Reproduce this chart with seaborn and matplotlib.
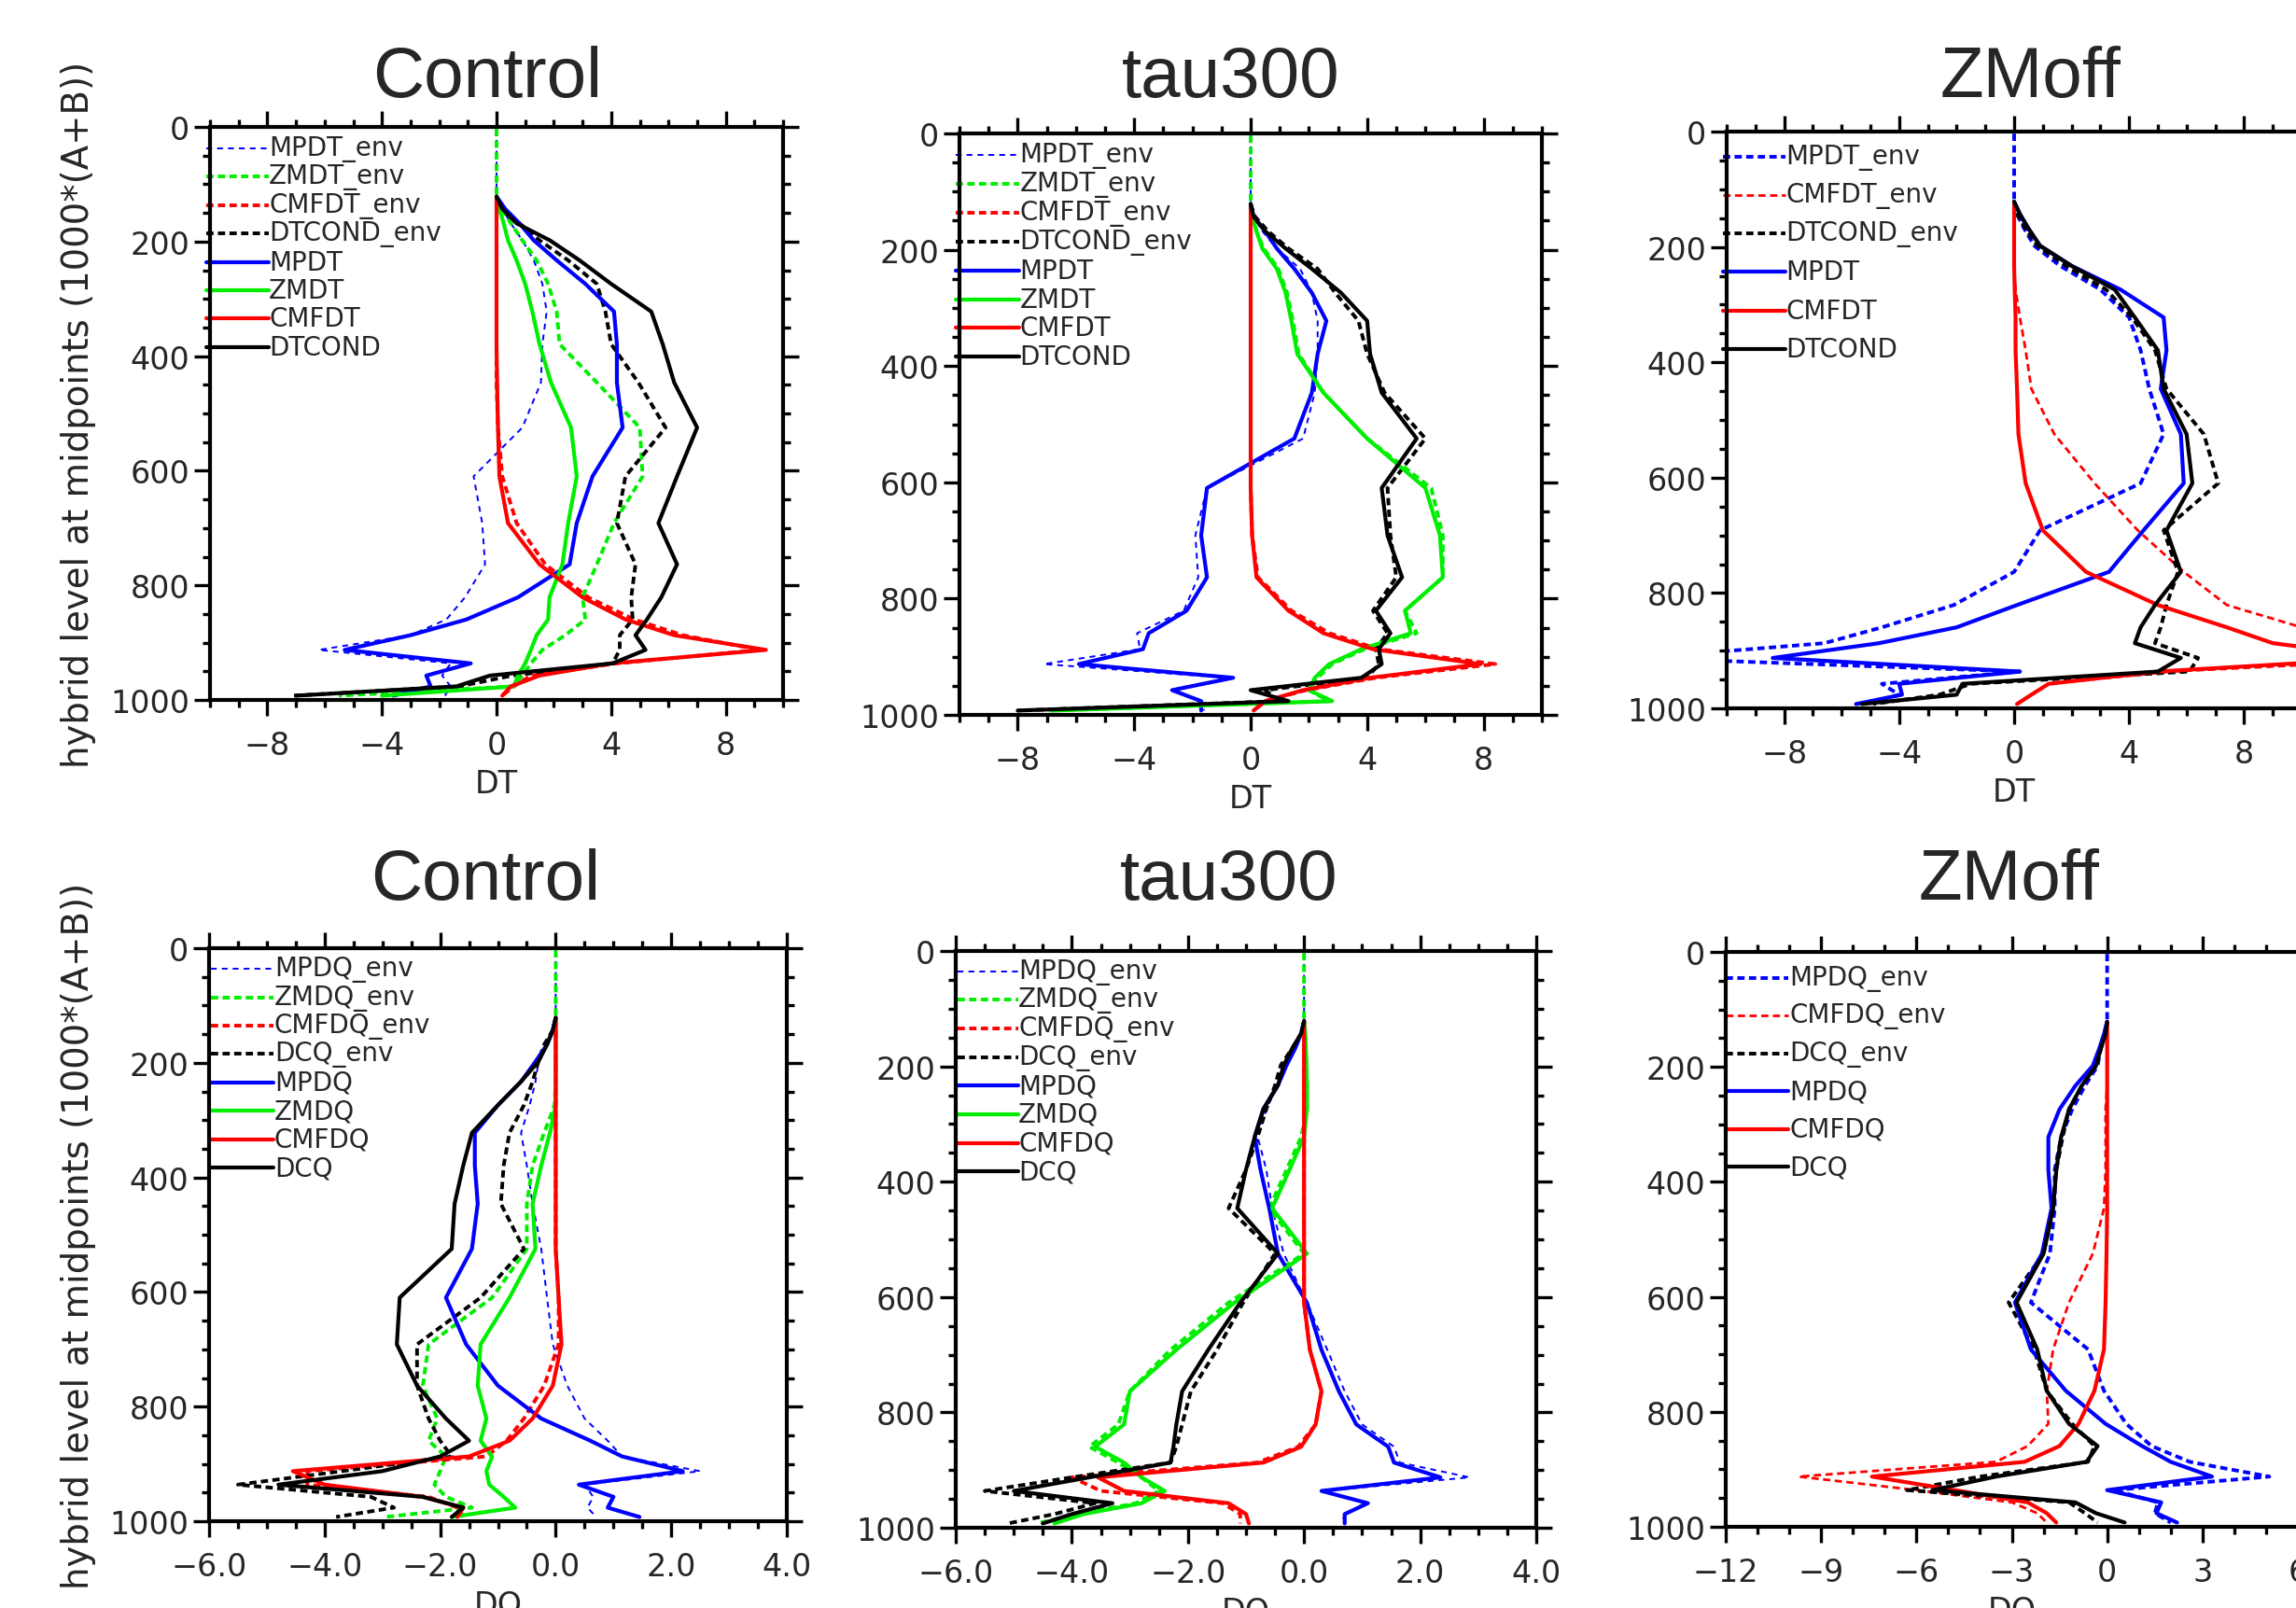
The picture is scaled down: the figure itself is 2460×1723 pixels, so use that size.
import matplotlib
matplotlib.use("Agg")
import matplotlib.pyplot as plt
import matplotlib.transforms as mtransforms
from matplotlib.ticker import FixedLocator, MultipleLocator, FuncFormatter
import seaborn as sns

NA = float("nan")  # level not plotted (no data above the convective top)

# ---------------- data ----------------
LEV = [3.64, 7.59, 14.36, 24.61, 38.27, 54.60, 72.01, 87.82, 103.32, 121.55,
       142.99, 168.23, 197.91, 232.83, 273.91, 322.24, 379.10, 445.99, 524.69, 609.78,
       691.39, 763.40, 820.86, 859.53, 887.02, 912.64, 936.20, 957.49, 976.33, 992.56]

# Control, DT
ctl_MPDT_env = [0, 0, 0, 0, 0, 0, 0, 0, 0, 0,
                0.2, 0.5, 0.9, 1.3, 1.6, 1.75, 1.6, 1.55, 0.9, -0.8,
                -0.5, -0.4, -1.1, -1.75, -3.0, -6.2, -1.6, -1.9, -1.6, -1.8]
ctl_ZMDT_env = [0, 0, 0, 0, 0, 0, 0, 0, 0, 0,
                0.2, 0.5, 0.9, 1.4, 1.8, 2.1, 2.2, 3.5, 5.0, 5.1,
                4.1, 3.5, 3.0, 3.1, 2.4, 1.6, 1.2, 0.9, 0.6, -5.5]
ctl_CMFDT_env = [NA, NA, NA, NA, NA, NA, NA, NA, NA, 0,
                 0, 0, 0, 0, 0, 0, 0, 0, 0.05, 0.2,
                 0.7, 1.7, 3.2, 4.8, 6.5, 9.2, 4.2, 1.2, 0.6, 0.2]
ctl_DTCOND_env = [NA, NA, NA, NA, NA, NA, NA, NA, NA, 0,
                  0.2, 0.8, 1.5, 2.5, 3.5, 3.8, 4.0, 4.95, 5.9, 4.5,
                  4.2, 4.85, 4.7, 4.75, 4.3, 4.3, 4.05, 0.55, -1.3, -7.1]
ctl_MPDT = [NA, NA, NA, NA, NA, NA, NA, NA, NA, 0,
            0.3, 0.8, 1.3, 2.1, 3.1, 4.1, 4.2, 4.2, 4.4, 3.35,
            2.8, 2.55, 0.75, -1.05, -3.0, -5.3, -0.9, -2.45, -2.3, -3.6]
ctl_ZMDT = [NA, NA, NA, NA, NA, NA, NA, NA, NA, 0,
            0.1, 0.25, 0.4, 0.7, 1.0, 1.25, 1.5, 1.9, 2.6, 2.8,
            2.5, 2.3, 1.85, 1.8, 1.4, 1.2, 1.0, 0.75, 0.6, -4.0]
ctl_CMFDT = [NA, NA, NA, NA, NA, NA, NA, NA, NA, 0,
             0, 0, 0, 0, 0, 0, 0, 0.02, 0.05, 0.1,
             0.4, 1.5, 3.0, 4.5, 6.2, 9.4, 4.0, 1.5, 0.5, 0.2]
ctl_DTCOND = [NA, NA, NA, NA, NA, NA, NA, NA, NA, 0,
              0.2, 0.7, 1.86, 2.9, 4.0, 5.4, 5.8, 6.2, 7.0, 6.3,
              5.65, 6.3, 5.75, 5.25, 4.85, 5.2, 4.05, -0.23, -1.4, -7.0]

# tau300, DT
tau_MPDT_env = [0, 0, 0, 0, 0, 0, 0, 0, 0, 0,
                0.1, 0.4, 0.9, 1.7, 2.1, 2.3, 2.3, 2.2, 1.8, -1.5,
                -1.9, -1.8, -2.3, -3.9, -3.8, -7.1, -0.8, -2.6, -1.7, -1.6]
tau_ZMDT_env = [0, 0, 0, 0, 0, 0, 0, 0, 0, 0,
                0.05, 0.2, 0.45, 0.95, 1.25, 1.45, 1.65, 2.5, 4.0, 6.2,
                6.6, 6.6, 5.3, 5.7, 3.9, 2.8, 2.3, 2.0, 2.7, -6.9]
tau_CMFDT_env = [NA, NA, NA, NA, NA, NA, NA, NA, NA, 0,
                 0, 0, 0, 0, 0, 0, 0, 0, 0, 0,
                 0.05, 0.25, 1.4, 2.7, 4.4, 8.4, 4.3, 1.9, 0.5, 0.1]
tau_DTCOND_env = [NA, NA, NA, NA, NA, NA, NA, NA, NA, 0,
                  0.15, 0.6, 1.3, 2.3, 2.9, 3.7, 4.0, 4.6, 6.0, 4.7,
                  4.8, 5.0, 4.2, 4.7, 4.3, 4.4, 4.0, 0.5, 1.0, -8.0]
tau_MPDT = [NA, NA, NA, NA, NA, NA, NA, NA, NA, 0,
            0.1, 0.5, 0.9, 1.5, 2.1, 2.6, 2.3, 2.1, 1.5, -1.5,
            -1.7, -1.5, -2.2, -3.5, -3.7, -5.9, -0.6, -2.7, -1.7, -1.7]
tau_ZMDT = [NA, NA, NA, NA, NA, NA, NA, NA, NA, 0,
            0.05, 0.2, 0.4, 0.9, 1.2, 1.4, 1.6, 2.5, 4.0, 6.0,
            6.5, 6.6, 5.3, 5.5, 3.8, 2.7, 2.2, 2.0, 2.8, -6.8]
tau_CMFDT = [NA, NA, NA, NA, NA, NA, NA, NA, NA, 0,
             0, 0, 0, 0, 0, 0, 0, 0, 0, 0,
             0.05, 0.2, 1.3, 2.5, 4.2, 7.9, 4.1, 1.8, 0.5, 0.1]
tau_DTCOND = [NA, NA, NA, NA, NA, NA, NA, NA, NA, 0,
              0.1, 0.5, 1.2, 2.1, 3.1, 4.0, 4.1, 4.5, 5.7, 4.5,
              4.7, 5.2, 4.3, 4.8, 4.4, 4.5, 3.8, 0.0, 1.3, -8.0]

# ZMoff, DT
zmo_MPDT_env = [0, 0, 0, 0, 0, 0, 0, 0, 0, 0,
                0.1, 0.35, 0.7, 1.6, 3.0, 4.0, 4.4, 4.7, 5.2, 4.4,
                0.9, 0.0, -2.1, -4.6, -6.6, -13.0, 0.2, -4.6, -4.0, -5.2]
zmo_CMFDT_env = [NA, NA, NA, NA, NA, NA, NA, NA, NA, 0,
                 0, 0, 0, 0, 0.05, 0.2, 0.4, 0.6, 1.4, 2.8,
                 4.3, 5.9, 7.4, 10.0, 12.0, 15.0, 5.5, 1.2, 0.6, 0.1]
zmo_DTCOND_env = [NA, NA, NA, NA, NA, NA, NA, NA, NA, 0,
                  0.1, 0.4, 0.8, 1.8, 3.2, 4.1, 4.9, 5.3, 6.6, 7.1,
                  5.2, 5.7, 5.3, 5.1, 4.9, 6.4, 6.1, -1.5, -2.6, -4.9]
zmo_MPDT = [NA, NA, NA, NA, NA, NA, NA, NA, NA, 0,
            0.2, 0.5, 0.9, 2.0, 3.7, 5.2, 5.3, 5.1, 5.8, 5.9,
            4.5, 3.3, 0.1, -2.0, -4.7, -8.4, 0.2, -4.0, -3.9, -5.5]
zmo_CMFDT = [NA, NA, NA, NA, NA, NA, NA, NA, NA, 0,
             0, 0, 0, 0, 0.02, 0.05, 0.05, 0.1, 0.15, 0.4,
             1.0, 2.5, 5.0, 7.4, 9.0, 13.0, 5.0, 1.2, 0.6, 0.1]
zmo_DTCOND = [NA, NA, NA, NA, NA, NA, NA, NA, NA, 0,
              0.2, 0.5, 0.9, 2.0, 3.5, 4.2, 5.0, 5.2, 6.0, 6.2,
              5.3, 5.8, 4.9, 4.4, 4.2, 5.8, 5.0, -1.8, -2.0, -5.3]

# Control, DQ
ctl_MPDQ_env = [0, 0, 0, 0, 0, 0, 0, 0, 0, 0,
                -0.05, -0.15, -0.3, -0.35, -0.45, -0.6, -0.5, -0.4, -0.25, -0.15,
                -0.05, 0.2, 0.5, 0.9, 1.15, 2.5, 0.5, 0.65, 0.55, 0.7]
ctl_ZMDQ_env = [0, 0, 0, 0, 0, 0, 0, 0, 0, 0,
                0, 0, 0, 0, -0.02, -0.2, -0.4, -0.5, -0.5, -1.1,
                -2.2, -2.3, -2.05, -2.2, -1.9, -2.0, -2.1, -1.9, -1.45, -2.95]
ctl_CMFDQ_env = [NA, NA, NA, NA, NA, NA, NA, NA, NA, 0,
                 0, 0, 0, 0, 0, 0, 0, 0, 0, 0.05,
                 0.05, -0.2, -0.55, -0.85, -1.2, -4.3, -4.3, -2.2, -1.7, -1.6]
ctl_DCQ_env = [NA, NA, NA, NA, NA, NA, NA, NA, NA, 0,
               -0.05, -0.2, -0.3, -0.4, -0.55, -0.8, -0.9, -0.95, -0.55, -1.3,
               -2.4, -2.4, -2.2, -2.0, -1.8, -3.7, -5.5, -3.2, -2.8, -3.8]
ctl_MPDQ = [NA, NA, NA, NA, NA, NA, NA, NA, NA, 0,
            -0.05, -0.15, -0.35, -0.6, -1.0, -1.4, -1.4, -1.35, -1.45, -1.9,
            -1.55, -1.0, -0.25, 0.6, 1.15, 2.2, 0.4, 1.0, 0.9, 1.45]
ctl_ZMDQ = [NA, NA, NA, NA, NA, NA, NA, NA, NA, 0,
            0, 0, 0, 0, 0, -0.1, -0.25, -0.4, -0.35, -0.8,
            -1.3, -1.35, -1.2, -1.3, -1.1, -1.2, -1.15, -0.9, -0.7, -1.8]
ctl_CMFDQ = [NA, NA, NA, NA, NA, NA, NA, NA, NA, 0,
             0, 0, 0, 0, 0, 0, 0, 0, 0, 0.05,
             0.1, -0.05, -0.4, -0.8, -1.5, -4.55, -4.0, -2.3, -1.6, -1.7]
ctl_DCQ = [NA, NA, NA, NA, NA, NA, NA, NA, NA, 0,
           -0.05, -0.15, -0.3, -0.6, -1.0, -1.45, -1.6, -1.75, -1.8, -2.7,
           -2.75, -2.4, -1.9, -1.5, -2.0, -3.0, -4.8, -2.3, -1.6, -1.8]

# tau300, DQ
tau_MPDQ_env = [0, 0, 0, 0, 0, 0, 0, 0, 0, 0,
                -0.05, -0.15, -0.3, -0.45, -0.65, -0.8, -0.65, -0.55, -0.35, 0.05,
                0.4, 0.7, 1.0, 1.55, 1.65, 2.85, 0.35, 1.05, 0.7, 0.65]
tau_ZMDQ_env = [0, 0, 0, 0, 0, 0, 0, 0, 0, 0,
                0.02, 0.03, 0.04, 0.05, 0.05, -0.05, -0.3, -0.6, 0.0, -1.3,
                -2.3, -3.0, -3.2, -3.7, -3.2, -2.8, -2.5, -2.9, -3.9, -4.6]
tau_CMFDQ_env = [NA, NA, NA, NA, NA, NA, NA, NA, NA, 0,
                 0, 0, 0, 0, 0, 0, 0, 0, 0, 0,
                 0.1, 0.3, 0.2, -0.1, -0.8, -4.0, -3.5, -1.4, -1.1, -1.1]
tau_DCQ_env = [NA, NA, NA, NA, NA, NA, NA, NA, NA, 0,
               -0.05, -0.2, -0.4, -0.5, -0.65, -0.8, -1.0, -1.3, -0.5, -1.05,
               -1.5, -1.95, -2.1, -2.2, -2.3, -4.0, -5.5, -3.6, -4.3, -5.1]
tau_MPDQ = [NA, NA, NA, NA, NA, NA, NA, NA, NA, 0,
            -0.05, -0.15, -0.3, -0.45, -0.7, -0.85, -0.75, -0.6, -0.45, 0.05,
            0.3, 0.6, 0.9, 1.45, 1.55, 2.35, 0.3, 1.1, 0.7, 0.7]
tau_ZMDQ = [NA, NA, NA, NA, NA, NA, NA, NA, NA, 0,
            0.02, 0.03, 0.04, 0.05, 0.05, 0.0, -0.25, -0.55, 0.05, -1.2,
            -2.2, -3.0, -3.1, -3.6, -3.1, -2.8, -2.4, -2.8, -3.8, -4.3]
tau_CMFDQ = [NA, NA, NA, NA, NA, NA, NA, NA, NA, 0,
             0, 0, 0, 0, 0, 0, 0, 0, 0, 0,
             0.1, 0.3, 0.2, -0.05, -0.7, -3.55, -3.1, -1.3, -1.0, -0.95]
tau_DCQ = [NA, NA, NA, NA, NA, NA, NA, NA, NA, 0,
           -0.05, -0.2, -0.35, -0.45, -0.7, -0.85, -1.0, -1.15, -0.45, -1.1,
           -1.65, -2.1, -2.2, -2.25, -2.3, -3.7, -5.0, -3.3, -4.0, -4.5]

# ZMoff, DQ
zmo_MPDQ_env = [0, 0, 0, 0, 0, 0, 0, 0, 0, 0,
                -0.1, -0.2, -0.3, -0.7, -1.1, -1.45, -1.65, -1.65, -1.8, -2.4,
                -0.6, -0.1, 0.6, 1.4, 2.6, 5.1, 0.2, 1.6, 1.5, 2.0]
zmo_CMFDQ_env = [NA, NA, NA, NA, NA, NA, NA, NA, NA, 0,
                 0, 0, 0, 0, -0.05, -0.05, -0.05, -0.1, -0.45, -1.2,
                 -1.7, -1.9, -1.85, -2.5, -3.5, -9.7, -6.0, -3.0, -2.2, -1.9]
zmo_DCQ_env = [NA, NA, NA, NA, NA, NA, NA, NA, NA, 0,
               -0.05, -0.2, -0.35, -0.8, -1.2, -1.4, -1.6, -1.7, -2.0, -3.1,
               -2.3, -1.9, -1.1, -0.4, -0.6, -4.0, -6.3, -1.2, -0.7, -0.3]
zmo_MPDQ = [NA, NA, NA, NA, NA, NA, NA, NA, NA, 0,
            -0.1, -0.25, -0.45, -1.0, -1.5, -1.85, -1.85, -1.75, -2.05, -2.9,
            -2.4, -1.3, -0.05, 1.1, 2.0, 3.3, 0.0, 1.7, 1.55, 2.2]
zmo_CMFDQ = [NA, NA, NA, NA, NA, NA, NA, NA, NA, 0,
             0, 0, 0, 0, 0, 0, 0, 0, -0.02, -0.05,
             -0.1, -0.4, -0.9, -1.5, -2.6, -7.4, -4.8, -2.5, -1.9, -1.6]
zmo_DCQ = [NA, NA, NA, NA, NA, NA, NA, NA, NA, 0,
           -0.05, -0.2, -0.35, -0.8, -1.2, -1.45, -1.6, -1.7, -2.0, -2.85,
           -2.2, -1.9, -1.2, -0.3, -0.65, -3.5, -5.5, -1.0, -0.35, 0.55]

TITLES = ["Control", "tau300", "ZMoff"]
YLABEL = "hybrid level at midpoints (1000*(A+B))"
DT_TICKS = [-8, -4, 0, 4, 8]
DQ_TICKS = [-6.0, -4.0, -2.0, 0.0, 2.0, 4.0]
DQ_ZMO_TICKS = [-12, -9, -6, -3, 0, 3, 6]
Y_TICKS = [0, 200, 400, 600, 800, 1000]

# ---------------- style ----------------
sns.set_style("white")
plt.rcParams["font.family"] = ["DejaVu Sans"]
plt.rcParams["axes.unicode_minus"] = True

BLUE, GREEN, RED, BLACK = "#0000FF", "#00EE00", "#FF0000", "#000000"
STY = {
    "solid": (3.0, "-"),
    "dash": (2.8, (0, (2.0, 1.2))),
    "mdash": (2.0, (0, (2.8, 1.7))),
    "thin": (1.4, (0, (3.2, 2.8))),
}

W, H = 2460, 1724
fig = plt.figure(figsize=(W / 100, H / 100), dpi=100)
fig.patch.set_facecolor("white")


def add_ax(l, t, r, b):
    return fig.add_axes([l / W, 1 - b / H, (r - l) / W, (b - t) / H])


def minus(s):
    return s.replace("-", "\u2212")


def draw_panel(ax, series, xlim, xticks, xminor, fmt, leg_y0, leg_dy,
               leg_x0=-0.006, leg_x1=0.102, leg_tx=0.103):
    for name, vals, color, kind in series:
        lw, ls = STY[kind]
        sns.lineplot(x=vals, y=LEV, sort=False, estimator=None, color=color,
                     linewidth=lw, linestyle=ls, ax=ax, legend=False)
    ax.set_xlim(*xlim)
    ax.set_ylim(1000, 0)
    ax.set_xlabel("")
    ax.set_ylabel("")
    ax.xaxis.set_major_locator(FixedLocator(xticks))
    ax.xaxis.set_minor_locator(MultipleLocator(xminor))
    ax.xaxis.set_major_formatter(FuncFormatter(lambda v, p: minus(fmt.format(v))))
    ax.yaxis.set_major_locator(FixedLocator(Y_TICKS))
    ax.yaxis.set_minor_locator(MultipleLocator(50))
    ax.yaxis.set_major_formatter(FuncFormatter(lambda v, p: "%d" % round(v)))
    for sp in ax.spines.values():
        sp.set_visible(True)
        sp.set_linewidth(3.0)
        sp.set_color("black")
    ax.tick_params(which="both", direction="out", top=True, right=True,
                   bottom=True, left=True, labeltop=False, labelright=False,
                   width=2.4, color="black")
    ax.tick_params(which="major", length=12.2, labelsize=24)
    ax.tick_params(which="minor", length=5.8)
    ax.tick_params(axis="x", which="major", pad=11)
    ax.tick_params(axis="y", which="major", pad=3.6)
    trans = mtransforms.blended_transform_factory(ax.transAxes, ax.transData)
    for i, (name, vals, color, kind) in enumerate(series):
        lw, ls = STY[kind]
        y = leg_y0 + i * leg_dy
        ax.plot([leg_x0, leg_x1], [y, y], transform=trans, color=color,
                linewidth=lw, linestyle=ls, clip_on=False)
        ax.text(leg_tx, y, name, transform=trans, fontsize=20,
                va="center", ha="left")


# panel geometry in pixels: left, top, right, bottom
POS = [
    (225, 137, 839, 751), (1028, 144, 1652, 767), (1850, 142, 2466, 760),
    (224, 1017, 843, 1631), (1024, 1020, 1646, 1638), (1849, 1021, 2462, 1637),
]

axs = [add_ax(*p) for p in POS]

draw_panel(axs[0], [
    ("MPDT_env", ctl_MPDT_env, BLUE, "thin"),
    ("ZMDT_env", ctl_ZMDT_env, GREEN, "dash"),
    ("CMFDT_env", ctl_CMFDT_env, RED, "dash"),
    ("DTCOND_env", ctl_DTCOND_env, BLACK, "dash"),
    ("MPDT", ctl_MPDT, BLUE, "solid"),
    ("ZMDT", ctl_ZMDT, GREEN, "solid"),
    ("CMFDT", ctl_CMFDT, RED, "solid"),
    ("DTCOND", ctl_DTCOND, BLACK, "solid"),
], (-10, 10), DT_TICKS, 1, "{:.0f}", 37, 49.6)

draw_panel(axs[1], [
    ("MPDT_env", tau_MPDT_env, BLUE, "thin"),
    ("ZMDT_env", tau_ZMDT_env, GREEN, "dash"),
    ("CMFDT_env", tau_CMFDT_env, RED, "dash"),
    ("DTCOND_env", tau_DTCOND_env, BLACK, "dash"),
    ("MPDT", tau_MPDT, BLUE, "solid"),
    ("ZMDT", tau_ZMDT, GREEN, "solid"),
    ("CMFDT", tau_CMFDT, RED, "solid"),
    ("DTCOND", tau_DTCOND, BLACK, "solid"),
], (-10, 10), DT_TICKS, 1, "{:.0f}", 37, 49.6)

draw_panel(axs[2], [
    ("MPDT_env", zmo_MPDT_env, BLUE, "dash"),
    ("CMFDT_env", zmo_CMFDT_env, RED, "mdash"),
    ("DTCOND_env", zmo_DTCOND_env, BLACK, "dash"),
    ("MPDT", zmo_MPDT, BLUE, "solid"),
    ("CMFDT", zmo_CMFDT, RED, "solid"),
    ("DTCOND", zmo_DTCOND, BLACK, "solid"),
], (-10, 10), DT_TICKS, 1, "{:.0f}", 44, 66.5)

draw_panel(axs[3], [
    ("MPDQ_env", ctl_MPDQ_env, BLUE, "thin"),
    ("ZMDQ_env", ctl_ZMDQ_env, GREEN, "dash"),
    ("CMFDQ_env", ctl_CMFDQ_env, RED, "dash"),
    ("DCQ_env", ctl_DCQ_env, BLACK, "dash"),
    ("MPDQ", ctl_MPDQ, BLUE, "solid"),
    ("ZMDQ", ctl_ZMDQ, GREEN, "solid"),
    ("CMFDQ", ctl_CMFDQ, RED, "solid"),
    ("DCQ", ctl_DCQ, BLACK, "solid"),
], (-6, 4), DQ_TICKS, 0.5, "{:.1f}", 36, 49.6,
    leg_x0=0.004, leg_x1=0.112, leg_tx=0.113)

draw_panel(axs[4], [
    ("MPDQ_env", tau_MPDQ_env, BLUE, "thin"),
    ("ZMDQ_env", tau_ZMDQ_env, GREEN, "dash"),
    ("CMFDQ_env", tau_CMFDQ_env, RED, "dash"),
    ("DCQ_env", tau_DCQ_env, BLACK, "dash"),
    ("MPDQ", tau_MPDQ, BLUE, "solid"),
    ("ZMDQ", tau_ZMDQ, GREEN, "solid"),
    ("CMFDQ", tau_CMFDQ, RED, "solid"),
    ("DCQ", tau_DCQ, BLACK, "solid"),
], (-6, 4), DQ_TICKS, 0.5, "{:.1f}", 35, 49.6,
    leg_x0=0.003, leg_x1=0.107, leg_tx=0.108)

draw_panel(axs[5], [
    ("MPDQ_env", zmo_MPDQ_env, BLUE, "dash"),
    ("CMFDQ_env", zmo_CMFDQ_env, RED, "mdash"),
    ("DCQ_env", zmo_DCQ_env, BLACK, "dash"),
    ("MPDQ", zmo_MPDQ, BLUE, "solid"),
    ("CMFDQ", zmo_CMFDQ, RED, "solid"),
    ("DCQ", zmo_DCQ, BLACK, "solid"),
], (-12, 6), DQ_ZMO_TICKS, 1, "{:.0f}", 45, 65.7,
    leg_x0=0.0, leg_x1=0.11, leg_tx=0.112)

# titles
TITLE_POS = [(522, 104), (1319, 104), (2176, 104), (520, 964), (1317, 964), (2153, 964)]
for i, (tx, ty) in enumerate(TITLE_POS):
    fig.text(tx / W, 1 - ty / H, TITLES[i % 3], fontsize=55,
             family=["Liberation Sans", "DejaVu Sans"], ha="center", va="baseline")

# x labels (the bottom row's labels are partly cut by the figure edge, as in the original)
for i, (l, t, r, b) in enumerate(POS):
    fig.text(((l + r) / 2) / W, 1 - (b + 73) / H, "DT" if i < 3 else "DQ",
             fontsize=24, ha="center", va="top")

# y labels on left column
ylabs = []
for (l, t, r, b) in (POS[0], POS[3]):
    ylabs.append(fig.text(84 / W, 1 - ((t + b) / 2) / H, YLABEL, rotation=90,
                          fontsize=22, ha="center", va="center"))
fig.canvas.draw()
for tl in ylabs:
    h = tl.get_window_extent().height
    tl.set_fontsize(22 * 757 / h)

fig.savefig("out.png", dpi=100, facecolor="white")
